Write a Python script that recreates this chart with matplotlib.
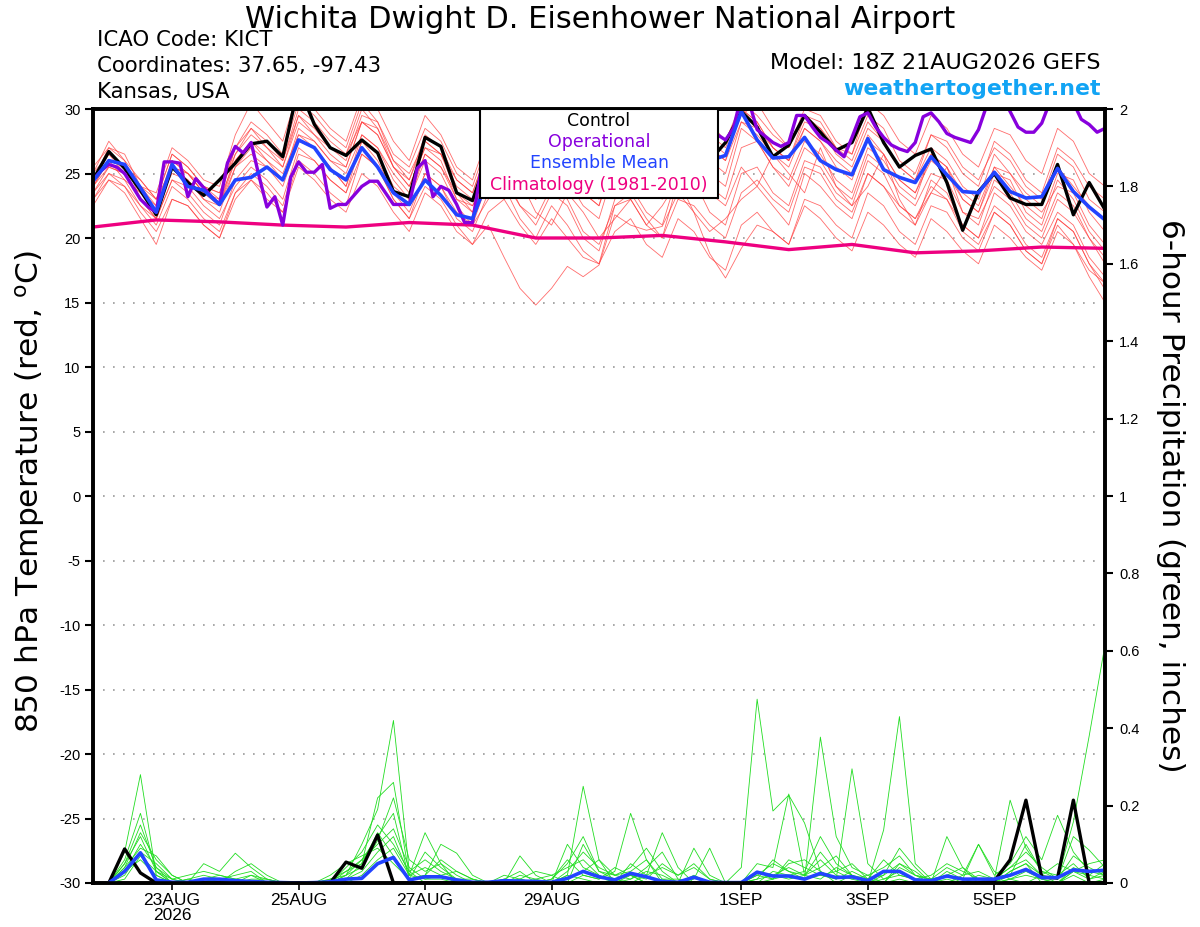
import numpy as np
import pandas as pd
import matplotlib
matplotlib.use("Agg")
import matplotlib.pyplot as plt
from matplotlib.patches import Rectangle

plt.rcParams['font.family'] = ['DejaVu Sans']
plt.rcParams['axes.unicode_minus'] = False

start = "2026-08-21 18:00"
t6 = pd.date_range(start, periods=65, freq="6h")
t3 = pd.date_range(start, periods=129, freq="3h")
t24 = pd.date_range(start, periods=17, freq="24h")
tp = t6[1:]

control_t = [24.5, 26.7, 25.4, 23.7, 21.8, 25.5, 24.3, 23.3, 24.5,
             25.8, 27.3, 27.5, 26.3, 31.8, 28.8, 27.0, 26.4,
             27.6, 26.6, 23.6, 23.2, 27.8, 27.1, 23.5, 22.9,
             26.5, 27.5, 26.0, 25.0, 28.5, 27.0, 26.0, 25.5,
             28.0, 27.0, 25.5, 25.0, 28.5, 27.5, 26.0, 27.4,
             29.8, 28.6, 26.3, 27.2, 29.5, 28.2, 26.8, 27.4,
             30.1, 27.4, 25.5, 26.4, 26.9, 24.3, 20.6, 23.6,
             25.0, 23.1, 22.6, 22.6, 25.7, 21.8, 24.3, 22.2]

mean_t = [24.4, 26.0, 25.7, 23.9, 22.0, 25.7, 24.0, 23.7, 22.6,
          24.5, 24.7, 25.5, 24.5, 27.6, 27.0, 25.3, 24.5,
          27.0, 25.5, 23.5, 22.6, 24.5, 23.3, 21.8, 21.5,
          24.7, 25.5, 24.5, 24.0, 26.5, 25.5, 24.5, 24.0,
          26.5, 25.5, 24.5, 24.0, 26.5, 25.5, 26.0, 26.4,
          29.8, 27.6, 26.2, 26.3, 27.8, 26.0, 25.3, 24.9,
          27.7, 25.3, 24.7, 24.3, 26.3, 24.9, 23.6, 23.5,
          25.1, 23.6, 23.1, 23.2, 25.4, 23.6, 22.4, 21.4]

oper_t = [24.5, 25.2, 25.7, 25.5, 25.0, 24.0, 23.0, 22.4, 22.0, 25.9,
          25.9, 25.8, 23.2, 24.6, 23.9, 23.2, 22.6, 25.8, 27.1, 26.6,
          27.4, 24.8, 22.4, 23.2, 21.0, 24.7, 25.9, 25.1, 25.1, 25.7,
          22.3, 22.6, 22.6, 23.3, 24.0, 24.4, 24.4, 23.5, 22.6, 22.6,
          22.6, 25.4, 26.0, 23.2, 24.0, 23.7, 22.6, 21.2, 21.2, 25.0,
          26.5, 27.5, 27.0, 26.0, 25.5, 25.0, 26.5, 28.0, 28.5, 27.5,
          26.5, 26.0, 25.5, 27.0, 28.5, 29.0, 28.0, 27.0, 26.5, 26.0,
          27.5, 29.0, 29.5, 28.5, 27.5, 27.0, 26.5, 27.5, 28.5, 28.0,
          27.6, 28.5, 31.0, 30.5, 28.4, 27.9, 27.4, 27.1, 27.4, 29.5,
          29.5, 28.6, 27.8, 27.4, 26.8, 26.3, 27.8, 29.4, 29.7, 28.6,
          27.8, 27.2, 26.9, 26.7, 27.4, 29.4, 29.7, 29.0, 28.1, 27.8,
          27.6, 27.4, 28.4, 30.2, 31.0, 31.0, 29.8, 28.6, 28.2, 28.2,
          28.9, 30.5, 31.5, 31.5, 30.5, 29.2, 28.8, 28.2, 28.5]

clim_t = [20.85, 21.4, 21.25, 21.0, 20.85, 21.2, 21.0, 20.0, 20.0,
          20.2, 19.7, 19.1, 19.5, 18.85, 19.0, 19.3, 19.2]

members_t = [
    [25.0, 27.5, 26.0, 24.5, 23.0, 26.5, 25.5, 24.0, 23.5,
     27.0, 29.0, 28.0, 26.5, 30.5, 29.5, 28.0, 27.0,
     30.5, 29.0, 26.5, 25.5, 28.5, 27.5, 25.0, 24.0,
     27.5, 28.5, 26.0, 25.0, 28.0, 27.0, 25.5, 24.5,
     28.5, 29.5, 27.5, 26.5, 30.0, 31.0, 29.0, 27.5,
     30.5, 29.5, 28.0, 27.0, 29.5, 28.5, 27.0, 26.0,
     29.0, 27.5, 25.5, 24.5, 27.0, 26.0, 24.0, 23.0,
     26.5, 25.0, 23.5, 22.5, 25.5, 24.0, 22.5, 21.5],
    [23.0, 25.0, 24.0, 22.5, 21.0, 24.0, 23.0, 21.5, 20.5,
     23.5, 24.5, 23.0, 22.0, 26.0, 25.0, 23.5, 22.5,
     26.5, 25.5, 23.0, 21.5, 24.0, 23.0, 21.0, 19.5,
     21.0, 18.5, 16.1, 14.8, 16.1, 17.8, 17.0, 17.9,
     21.8, 21.0, 20.6, 20.9, 23.5, 22.0, 18.8, 16.9,
     19.2, 21.0, 20.5, 19.5, 22.5, 21.5, 20.0, 19.0,
     22.0, 21.0, 19.5, 18.5, 21.5, 20.5, 19.0, 18.0,
     21.0, 20.0, 18.5, 17.5, 20.5, 19.5, 17.5, 16.5],
    [24.0, 26.0, 25.5, 23.5, 22.5, 25.0, 24.5, 23.0, 22.0,
     25.5, 27.0, 26.0, 24.5, 28.5, 27.5, 26.0, 25.0,
     28.0, 27.0, 24.5, 23.0, 26.0, 25.0, 22.5, 21.0,
     24.5, 23.0, 24.5, 22.0, 21.0, 23.5, 22.0, 20.0,
     21.5, 23.0, 21.0, 22.5, 24.5, 22.0, 20.5, 21.5,
     23.0, 24.0, 22.5, 21.0, 25.0, 24.0, 22.5, 21.5,
     25.0, 24.0, 22.0, 21.0, 24.5, 23.5, 21.0, 20.0,
     23.5, 22.5, 20.5, 19.5, 22.0, 21.0, 18.5, 17.0],
    [25.5, 27.0, 26.5, 24.0, 22.5, 26.0, 25.0, 23.5, 22.5,
     26.5, 28.5, 27.0, 25.5, 29.5, 28.0, 26.5, 25.5,
     29.0, 28.0, 25.5, 24.0, 27.0, 26.5, 23.5, 22.0,
     26.0, 27.5, 25.0, 24.0, 27.0, 26.5, 24.0, 23.0,
     26.5, 27.5, 25.5, 24.5, 28.0, 27.5, 25.0, 24.0,
     28.5, 27.5, 25.5, 24.5, 27.5, 26.5, 24.5, 23.5,
     27.0, 26.0, 24.0, 23.0, 26.5, 25.5, 23.0, 22.0,
     25.0, 24.5, 22.0, 21.0, 24.5, 23.0, 20.5, 19.0],
    [24.5, 26.5, 25.0, 24.0, 23.5, 27.0, 26.0, 24.5, 24.0,
     28.0, 30.5, 29.0, 27.5, 31.5, 30.0, 28.5, 27.5,
     31.0, 30.0, 27.5, 26.0, 29.5, 28.0, 25.5, 24.5,
     28.0, 29.5, 27.5, 26.0, 29.5, 28.5, 26.5, 25.5,
     29.0, 30.5, 28.5, 27.5, 31.0, 30.5, 28.0, 27.0,
     30.0, 29.0, 27.0, 26.0, 29.0, 28.5, 26.5, 25.5,
     28.5, 27.5, 25.5, 24.5, 28.0, 27.0, 25.0, 24.0,
     27.5, 26.5, 24.5, 23.5, 27.0, 26.0, 24.0, 23.0],
    [23.5, 25.5, 25.0, 23.0, 21.5, 24.5, 24.0, 22.5, 21.5,
     24.0, 25.5, 24.5, 23.0, 27.0, 26.0, 24.5, 23.5,
     27.5, 26.0, 23.5, 22.0, 25.0, 24.0, 22.0, 21.0,
     23.0, 24.0, 21.5, 20.0, 22.5, 21.0, 19.0, 18.0,
     20.5, 21.5, 19.5, 18.5, 21.5, 20.5, 18.5, 17.5,
     21.0, 22.0, 20.5, 19.5, 23.0, 22.5, 21.0, 20.0,
     23.5, 22.5, 20.5, 19.5, 22.5, 22.0, 20.0, 19.0,
     22.0, 21.0, 19.0, 18.0, 21.0, 19.5, 17.0, 15.0],
    [24.5, 27.0, 26.0, 23.0, 21.5, 25.5, 25.0, 23.5, 23.0,
     26.0, 27.5, 26.0, 25.0, 28.0, 27.0, 25.5, 24.0,
     27.5, 26.5, 24.0, 23.0, 26.5, 25.5, 23.0, 22.0,
     25.0, 26.5, 24.0, 23.0, 26.0, 25.5, 23.5, 22.5,
     26.0, 27.0, 25.5, 24.5, 28.5, 28.0, 26.0, 25.0,
     29.0, 28.0, 26.5, 25.5, 28.5, 27.5, 25.5, 24.5,
     28.0, 26.5, 24.5, 23.5, 26.0, 25.0, 23.0, 22.0,
     25.5, 24.0, 22.5, 21.5, 25.0, 24.5, 22.0, 20.5],
    [24.0, 26.0, 24.5, 23.5, 22.0, 25.5, 24.5, 23.0, 22.5,
     26.0, 27.5, 26.5, 25.5, 29.0, 28.0, 27.0, 26.0,
     29.5, 29.0, 26.0, 24.5, 28.0, 27.0, 24.5, 23.5,
     27.0, 28.5, 26.5, 25.5, 28.5, 28.0, 26.0, 25.0,
     28.5, 29.5, 27.5, 26.5, 30.5, 30.0, 27.5, 26.5,
     29.5, 30.5, 28.5, 27.0, 30.0, 29.5, 27.5, 26.5,
     29.5, 28.5, 26.0, 25.0, 28.0, 27.5, 25.5, 24.5,
     27.0, 26.0, 24.0, 23.0, 26.5, 25.5, 23.0, 22.0],
    [22.5, 24.5, 24.0, 22.0, 20.5, 23.0, 22.5, 21.0, 20.0,
     23.0, 24.5, 23.5, 22.0, 25.5, 24.5, 23.0, 22.0,
     25.0, 24.0, 22.0, 20.5, 23.5, 22.5, 20.5, 19.5,
     22.0, 23.0, 21.0, 19.5, 21.5, 20.0, 18.5, 18.0,
     22.5, 23.5, 21.5, 20.0, 23.0, 22.5, 21.0, 20.0,
     23.5, 24.5, 23.0, 22.0, 25.5, 25.0, 23.0, 22.0,
     25.0, 24.0, 22.5, 21.5, 24.0, 23.0, 21.0, 20.0,
     22.5, 21.5, 19.5, 18.5, 21.5, 20.5, 18.0, 16.5],
    [25.0, 26.5, 25.5, 24.5, 23.0, 26.5, 25.5, 24.0, 23.0,
     27.0, 28.5, 27.5, 26.0, 30.0, 29.0, 27.5, 26.5,
     30.0, 28.5, 26.0, 25.0, 27.5, 26.5, 24.0, 23.0,
     26.5, 27.0, 25.0, 24.0, 26.5, 25.5, 23.5, 22.5,
     27.0, 28.0, 26.0, 25.0, 29.0, 29.0, 27.0, 26.0,
     30.0, 29.0, 27.0, 26.0, 28.5, 27.5, 26.0, 25.0,
     27.5, 26.5, 24.5, 23.5, 26.5, 25.5, 23.5, 22.5,
     25.5, 25.0, 23.0, 22.0, 24.0, 23.5, 21.0, 19.5],
    [23.5, 25.0, 24.5, 22.5, 21.5, 24.5, 23.5, 22.0, 21.0,
     24.5, 26.0, 25.5, 24.0, 27.5, 27.0, 25.5, 24.0,
     28.0, 27.0, 25.0, 23.5, 26.5, 25.5, 23.5, 22.5,
     25.5, 26.0, 24.0, 23.0, 25.0, 24.5, 22.5, 21.5,
     25.5, 26.5, 24.5, 23.0, 27.0, 26.5, 24.0, 23.0,
     27.0, 27.5, 25.5, 24.0, 27.0, 26.0, 24.0, 23.0,
     26.5, 25.5, 23.5, 22.5, 25.0, 24.5, 22.0, 21.0,
     24.5, 23.5, 21.5, 20.5, 23.5, 22.5, 20.0, 18.5],
    [24.0, 25.5, 25.0, 23.0, 22.0, 26.0, 25.0, 23.5, 22.5,
     25.5, 26.5, 25.5, 24.5, 28.0, 27.5, 26.0, 25.5,
     29.0, 28.5, 25.5, 24.0, 27.0, 26.0, 23.0, 22.5,
     24.5, 25.0, 22.5, 21.5, 24.0, 23.0, 20.5, 19.5,
     22.5, 23.0, 21.0, 20.0, 24.5, 25.0, 23.5, 22.5,
     25.5, 24.0, 26.5, 25.0, 23.5, 27.0, 24.0, 22.5,
     24.0, 26.5, 23.0, 21.0, 23.5, 25.5, 22.0, 21.5,
     24.0, 23.0, 21.0, 20.0, 23.0, 22.0, 20.0, 18.0],
    [24.5, 26.0, 25.5, 24.0, 23.0, 25.5, 25.0, 24.0, 23.5,
     26.5, 28.0, 27.0, 26.0, 29.5, 28.5, 27.0, 26.5,
     29.0, 28.0, 25.5, 24.5, 27.5, 26.5, 24.5, 23.5,
     27.0, 28.0, 26.5, 25.5, 28.5, 27.5, 25.5, 24.5,
     28.0, 29.0, 27.0, 26.0, 29.5, 29.0, 27.0, 26.0,
     29.0, 28.5, 27.0, 26.0, 29.5, 29.0, 27.0, 26.5,
     30.5, 29.5, 27.5, 26.5, 29.5, 28.5, 26.5, 25.5,
     28.5, 28.0, 26.0, 25.0, 28.5, 27.5, 25.0, 24.0],
    [23.0, 24.5, 23.5, 21.5, 19.5, 23.0, 22.5, 21.0, 20.0,
     23.5, 25.0, 24.0, 22.5, 26.5, 26.0, 24.5, 23.5,
     26.5, 25.5, 23.0, 21.5, 25.0, 24.0, 21.5, 20.5,
     23.5, 24.5, 22.5, 21.0, 23.5, 22.5, 20.0, 19.0,
     23.0, 24.0, 22.0, 21.0, 25.0, 24.5, 22.0, 21.0,
     25.0, 25.5, 23.5, 22.5, 26.0, 25.5, 23.5, 22.5,
     26.0, 25.0, 22.5, 21.5, 23.5, 23.0, 20.5, 19.5,
     22.0, 21.0, 19.0, 18.0, 21.5, 20.5, 18.0, 16.0],
]

control_p = [0, 0.088, 0.026, 0, 0, 0, 0, 0,
             0, 0, 0, 0, 0, 0, 0, 0.054,
             0.038, 0.124, 0, 0, 0, 0, 0, 0,
             0, 0, 0, 0, 0, 0, 0, 0,
             0, 0, 0, 0, 0, 0, 0, 0,
             0, 0, 0, 0, 0, 0, 0, 0,
             0, 0, 0, 0, 0, 0, 0, 0,
             0.005, 0.06, 0.214, 0.015, 0.013, 0.214, 0, 0]

mean_p = [0, 0.03, 0.078, 0.008, 0.002, 0.002, 0.01, 0.01,
          0.006, 0.004, 0.002, 0.001, 0, 0.001, 0.003, 0.01,
          0.012, 0.05, 0.066, 0.008, 0.016, 0.016, 0.008, 0.002,
          0.002, 0.006, 0.005, 0.004, 0.002, 0.012, 0.03, 0.016,
          0.008, 0.025, 0.016, 0.004, 0.002, 0.015, 0.002, 0.001,
          0.001, 0.028, 0.018, 0.018, 0.01, 0.025, 0.014, 0.016,
          0.006, 0.03, 0.03, 0.008, 0.006, 0.018, 0.01, 0.01,
          0.01, 0.02, 0.035, 0.014, 0.014, 0.034, 0.03, 0.033]

members_p = [
    [0, 0.08, 0.28, 0.02, 0, 0, 0.01, 0,
     0, 0, 0, 0, 0, 0, 0, 0.02,
     0.10, 0.19, 0.42, 0.03, 0, 0, 0, 0,
     0, 0, 0, 0, 0, 0.02, 0.25, 0.06,
     0, 0.02, 0, 0, 0, 0, 0, 0,
     0.04, 0.475, 0.186, 0.227, 0.155, 0.03, 0, 0.02,
     0, 0, 0.01, 0, 0, 0.02, 0, 0,
     0, 0.03, 0.05, 0, 0, 0.02, 0, 0.01],
    [0, 0.06, 0.18, 0.03, 0, 0, 0.05, 0.03,
     0.077, 0.04, 0.01, 0, 0, 0, 0, 0.01,
     0.05, 0.22, 0.26, 0.02, 0.13, 0.05, 0, 0,
     0, 0, 0.07, 0.02, 0, 0, 0.02, 0.01,
     0.03, 0.18, 0.06, 0, 0, 0, 0, 0,
     0, 0, 0.03, 0.02, 0.01, 0.377, 0.12, 0.04,
     0.02, 0, 0.05, 0.02, 0, 0, 0, 0,
     0.01, 0.04, 0.08, 0.04, 0.01, 0.158, 0.38, 0.615],
    [0, 0.05, 0.15, 0.04, 0, 0.01, 0.02, 0.01,
     0.02, 0.03, 0, 0, 0, 0, 0.01, 0.03,
     0.06, 0.12, 0.18, 0.01, 0.02, 0.10, 0.077, 0.02,
     0, 0.01, 0.03, 0, 0, 0.10, 0.04, 0.02,
     0, 0.05, 0.02, 0.13, 0.04, 0, 0, 0,
     0, 0.03, 0.01, 0.05, 0.06, 0.03, 0.01, 0.295,
     0.05, 0.01, 0.02, 0.01, 0, 0.12, 0.04, 0,
     0, 0.01, 0.02, 0.01, 0, 0.03, 0.02, 0.01],
    [0, 0.04, 0.13, 0.06, 0.02, 0, 0, 0,
     0.03, 0.05, 0.02, 0, 0, 0, 0, 0.04,
     0.08, 0.15, 0.10, 0.03, 0.06, 0.03, 0.01, 0,
     0, 0, 0.01, 0.03, 0.02, 0, 0.10, 0.03,
     0.02, 0.04, 0.09, 0.03, 0, 0.09, 0.02, 0,
     0, 0.05, 0.04, 0.23, 0.02, 0.01, 0.04, 0.02,
     0, 0.137, 0.43, 0.05, 0.01, 0, 0.02, 0.10,
     0.03, 0.01, 0, 0.02, 0.05, 0.03, 0.01, 0.02],
    [0, 0.03, 0.10, 0.04, 0.01, 0.02, 0.03, 0.02,
     0.01, 0, 0, 0, 0, 0, 0.01, 0.02,
     0.06, 0.10, 0.14, 0.04, 0.01, 0.02, 0.03, 0.01,
     0, 0.02, 0.01, 0, 0.01, 0.06, 0.02, 0.01,
     0.04, 0.02, 0.01, 0.05, 0.02, 0.04, 0.01, 0,
     0, 0.01, 0.06, 0.03, 0.02, 0.08, 0.03, 0.01,
     0.02, 0.04, 0.07, 0.02, 0.01, 0.04, 0.02, 0.03,
     0.01, 0.214, 0.09, 0.03, 0.02, 0.05, 0.01, 0.03],
    [0, 0.02, 0.08, 0.05, 0.01, 0, 0, 0.01,
     0, 0.02, 0.01, 0, 0, 0, 0, 0.01,
     0.03, 0.08, 0.12, 0.02, 0.04, 0.02, 0, 0,
     0, 0.01, 0, 0, 0, 0.03, 0.08, 0.04,
     0.02, 0.03, 0.06, 0.01, 0, 0.02, 0, 0,
     0, 0.02, 0.01, 0.02, 0.03, 0.12, 0.05, 0.02,
     0.01, 0.02, 0.09, 0.04, 0, 0.03, 0.01, 0.10,
     0.02, 0.05, 0.12, 0.06, 0.175, 0.08, 0.03, 0.02],
    [0, 0.05, 0.12, 0.03, 0.01, 0, 0, 0,
     0, 0, 0, 0, 0, 0, 0, 0.02,
     0.04, 0.11, 0.22, 0.06, 0.03, 0.05, 0.02, 0,
     0, 0, 0, 0.01, 0.02, 0.04, 0.06, 0.02,
     0, 0.01, 0.03, 0.02, 0, 0.01, 0.09, 0,
     0, 0.01, 0.02, 0.04, 0.02, 0.06, 0.02, 0.01,
     0, 0.01, 0.03, 0.01, 0, 0.01, 0, 0.02,
     0.01, 0.04, 0.06, 0.02, 0.01, 0.07, 0.04, 0.02],
    [0, 0.03, 0.06, 0.02, 0, 0.01, 0, 0,
     0.01, 0.02, 0, 0, 0, 0, 0.02, 0.05,
     0.07, 0.09, 0.05, 0.01, 0.08, 0.04, 0.01, 0.01,
     0, 0, 0.01, 0, 0, 0.01, 0.03, 0.06,
     0.02, 0.01, 0.04, 0.08, 0.01, 0, 0, 0,
     0, 0.02, 0.05, 0.03, 0.01, 0.02, 0.03, 0.05,
     0.01, 0.06, 0.02, 0.01, 0.02, 0.05, 0.03, 0.01,
     0, 0.02, 0.10, 0.03, 0.01, 0.12, 0.085, 0.04],
    [0, 0.01, 0.07, 0.03, 0, 0, 0.01, 0.02,
     0.01, 0, 0, 0, 0, 0, 0, 0,
     0.02, 0.06, 0.09, 0.02, 0.01, 0.01, 0, 0,
     0, 0, 0.02, 0.01, 0, 0.02, 0.01, 0,
     0.01, 0.02, 0, 0.01, 0.01, 0, 0, 0,
     0, 0, 0.01, 0.06, 0.04, 0.02, 0.01, 0.03,
     0.01, 0, 0.04, 0.02, 0.01, 0.02, 0.01, 0,
     0, 0.01, 0.03, 0.01, 0, 0.04, 0.02, 0.05],
    [0, 0.04, 0.09, 0.07, 0.02, 0, 0, 0,
     0, 0.01, 0.01, 0, 0, 0, 0, 0.03,
     0.05, 0.13, 0.07, 0.01, 0.02, 0.06, 0.03, 0.01,
     0, 0, 0, 0, 0.01, 0.05, 0.12, 0.03,
     0.01, 0, 0.02, 0.04, 0.02, 0.05, 0.01, 0,
     0, 0.03, 0.02, 0.01, 0.02, 0.04, 0.07, 0.02,
     0, 0.02, 0.05, 0.03, 0, 0.02, 0.04, 0.01,
     0, 0.03, 0.05, 0.02, 0, 0.03, 0.05, 0.06],
]

tick_dates = ["2026-08-23", "2026-08-25", "2026-08-27", "2026-08-29",
              "2026-09-01", "2026-09-03", "2026-09-05"]
tick_labels = ["23AUG\n2026", "25AUG", "27AUG", "29AUG", "1SEP", "3SEP", "5SEP"]

# colours
c_member = "#ff3b3b"
c_precip = "#22dd22"
c_oper = "#8800dd"
c_mean = "#2244ff"
c_clim = "#ee0080"

fig = plt.figure(figsize=(12, 9.27), dpi=100)
ax1 = fig.add_axes([93 / 1200, 1 - 883 / 927, 1012 / 1200, 774 / 927])
ax2 = ax1.twinx()

for m in members_t:
    ax1.plot(t6, m, color=c_member, lw=0.6, alpha=0.75)
ax1.plot(t24, clim_t, color=c_clim, lw=2.4)
ax1.plot(t6, control_t, color="black", lw=2.4)
ax1.plot(t3, oper_t, color=c_oper, lw=2.4)
ax1.plot(t6, mean_t, color=c_mean, lw=2.6)

for m in members_p:
    ax2.plot(tp, m, color=c_precip, lw=0.6)
ax2.plot(tp, control_p, color="black", lw=2.4)
ax2.plot(tp, mean_p, color=c_mean, lw=2.6)

ax1.set_xlim(pd.Timestamp("2026-08-21 18:00"), pd.Timestamp("2026-09-06 18:00"))
ax1.set_ylim(-30, 30)
ax1.set_yticks(np.arange(-30, 31, 5))
ax2.set_ylim(0, 2)
ax2.set_yticks(np.arange(0, 2.01, 0.2))
ax2.set_yticklabels(["0", "0.2", "0.4", "0.6", "0.8", "1", "1.2", "1.4", "1.6", "1.8", "2"])
ax1.set_xticks(pd.to_datetime(tick_dates))
ax1.set_xticklabels(tick_labels, linespacing=1.05)

ax1.yaxis.grid(True, linestyle=(0, (1, 5)), color="#999999", lw=1.2)
for ax in (ax1, ax2):
    for s in ax.spines.values():
        s.set_linewidth(2.6)
ax1.tick_params(axis="y", direction="out", length=6, width=1.5, labelsize=10.5, pad=3)
ax1.tick_params(axis="x", direction="out", length=5, width=1.2, labelsize=12.5, pad=2)
ax2.tick_params(axis="y", direction="out", length=6, width=1.5, labelsize=10.5, pad=4)
for lab in ax1.get_xticklabels() + ax1.get_yticklabels() + ax2.get_yticklabels():
    lab.set_fontfamily(['Liberation Sans', 'DejaVu Sans'])

# legend box
ax2.add_patch(Rectangle((0.3824, 0.885), 0.2352, 0.115, transform=ax2.transAxes,
                        facecolor="white", edgecolor="black", lw=1.5, zorder=10))
leg = [("Control", "black"), ("Operational", c_oper),
       ("Ensemble Mean", c_mean), ("Climatology (1981-2010)", c_clim)]
for k, (txt, col) in enumerate(leg):
    ax2.text(0.5, 0.985 - k * 0.0277, txt, color=col, fontsize=12.5,
             ha="center", va="center", transform=ax2.transAxes, zorder=11)

fig.text(0.5, 1 - 19 / 927, "Wichita Dwight D. Eisenhower National Airport",
         ha="center", va="center", fontsize=22)
fig.text(97 / 1200, 1 - 40 / 927, "ICAO Code: KICT", ha="left", va="center", fontsize=15.3)
fig.text(97 / 1200, 1 - 66 / 927, "Coordinates: 37.65, -97.43", ha="left", va="center", fontsize=15.3)
fig.text(97 / 1200, 1 - 92 / 927, "Kansas, USA", ha="left", va="center", fontsize=15.3)
fig.text(1101 / 1200, 1 - 63 / 927, "Model: 18Z 21AUG2026 GEFS", ha="right", va="center", fontsize=16)
fig.text(1101 / 1200, 1 - 89 / 927, "weathertogether.net", ha="right", va="center",
         fontsize=15.8, fontweight="bold", color="#12a4f4")
fig.text(30 / 1200, 1 - 492 / 927, "850 hPa Temperature (red, $^{\\rm o}$C)",
         rotation=90, ha="center", va="center", fontsize=22.5)
fig.text(1170 / 1200, 1 - 496 / 927, "6-hour Precipitation (green, inches)",
         rotation=270, ha="center", va="center", fontsize=22.5)

fig.savefig("out.png", dpi=100)
